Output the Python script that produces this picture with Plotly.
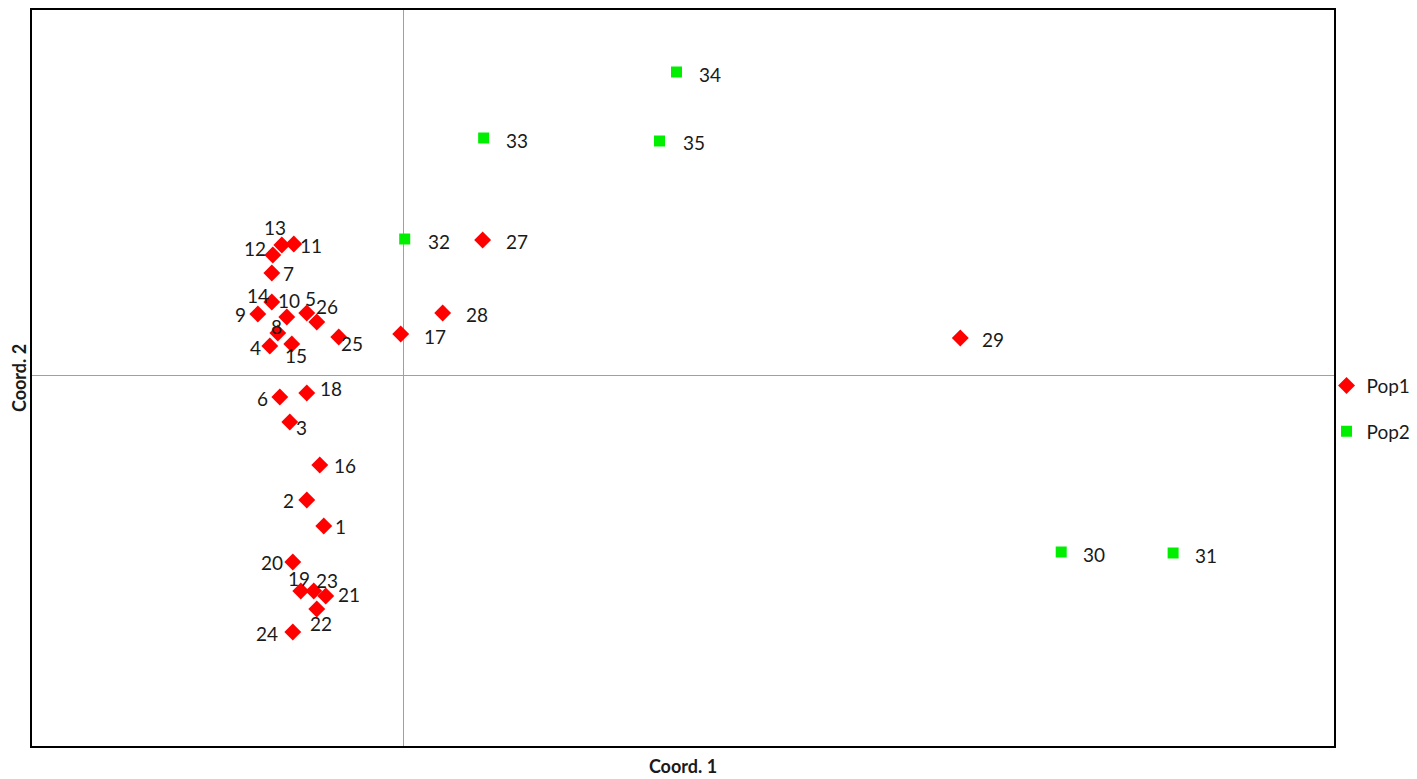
from plotly import graph_objects as go

# Coordinate PCoA
pop1_ids = [str(i) for i in range(1, 30)]
pop1_x = [-0.80, -0.97, -1.14, -1.34, -0.97, -1.24, -1.32, -1.26, -1.46, -1.17,
          -1.10, -1.31, -1.22, -1.32, -1.12, -0.84, -0.03, -0.97, -1.03, -1.11,
          -0.78, -0.87, -0.90, -1.11, -0.65, -0.87, 0.79, 0.39, 5.57]
pop1_y = [-1.51, -1.25, -0.47, 0.29, 0.62, -0.22, 1.02, 0.42, 0.61, 0.58,
          1.31, 1.20, 1.30, 0.73, 0.31, -0.90, 0.41, -0.18, -2.16, -1.87,
          -2.21, -2.34, -2.16, -2.57, 0.38, 0.53, 1.35, 0.62, 0.37]

pop2_ids = ["30", "31", "32", "33", "34", "35"]
pop2_x = [6.58, 7.70, 0.01, 0.80, 2.73, 2.56]
pop2_y = [-1.77, -1.78, 1.36, 2.37, 3.03, 2.34]

# spostamento delle etichette in pixel (dx, dy verso il basso)
offset = {
    "1": (17, 0), "2": (-18, 0), "3": (12, 5), "4": (-14, 1), "5": (4, -15),
    "6": (-17, 1), "7": (17, 0), "8": (-1, -7), "9": (-17, 0), "10": (2, -17),
    "11": (17, 1), "12": (-18, -7), "13": (-7, -18), "14": (-14, -7), "15": (4, 11),
    "16": (25, 0), "17": (34, 2), "18": (24, -5), "19": (-2, -13), "20": (-21, 0),
    "21": (23, -2), "22": (4, 14), "23": (13, -11), "24": (-26, 1), "25": (13, 6),
    "26": (10, -16), "27": (34, 1), "28": (34, 1), "29": (33, 1), "30": (33, 2),
    "31": (33, 2), "32": (34, 2), "33": (33, 2), "34": (33, 2), "35": (34, 1),
}

fig = go.Figure()
fig.add_trace(go.Scatter(
    x=pop1_x, y=pop1_y, name="Pop1", mode="markers",
    marker=dict(symbol="diamond", size=13, color="#ff0000"),
    legendgroup="a", hoverinfo="text", text=pop1_ids,
))
fig.add_trace(go.Scatter(
    x=pop2_x, y=pop2_y, name="Pop2", mode="markers",
    marker=dict(symbol="square", size=11, color="#00ee00"),
    legendgroup="b", hoverinfo="text", text=pop2_ids,
))

# etichette dei punti
for ids, xs, ys in [(pop1_ids, pop1_x, pop1_y), (pop2_ids, pop2_x, pop2_y)]:
    for t, x, y in zip(ids, xs, ys):
        dx, dy = offset[t]
        fig.add_annotation(x=x, y=y, text=t, showarrow=False,
                           xshift=dx, yshift=-dy,
                           font=dict(size=19, color="#1a1a1a"))

# la pagina ha 8px di margine nel body: figura un po' piu' piccola
fig.update_layout(
    width=1409, height=771,
    margin=dict(l=24, r=82, t=2, b=33),
    paper_bgcolor="white", plot_bgcolor="white",
    font=dict(family="Lato", size=19, color="#1a1a1a"),
    showlegend=True,
    legend=dict(x=0.9935, y=0.5155, xanchor="left", yanchor="top",
                font=dict(size=19), tracegroupgap=18, traceorder="grouped",
                bgcolor="rgba(0,0,0,0)"),
    xaxis=dict(range=[-3.72, 9.31], showgrid=False, showticklabels=False, ticks="",
               zeroline=True, zerolinecolor="#a0a0a0", zerolinewidth=1,
               showline=True, mirror=True, linecolor="black", linewidth=2,
               automargin=False,
               title=dict(text="<b>Coord. 1</b>", font=dict(size=18), standoff=13)),
    yaxis=dict(range=[-3.71, 3.65], showgrid=False, showticklabels=False, ticks="",
               zeroline=True, zerolinecolor="#a0a0a0", zerolinewidth=1,
               showline=True, mirror=True, linecolor="black", linewidth=2,
               automargin=False,
               title=dict(text="<b>Coord. 2</b>", font=dict(size=18), standoff=0)),
)

fig.write_html("out.html")
